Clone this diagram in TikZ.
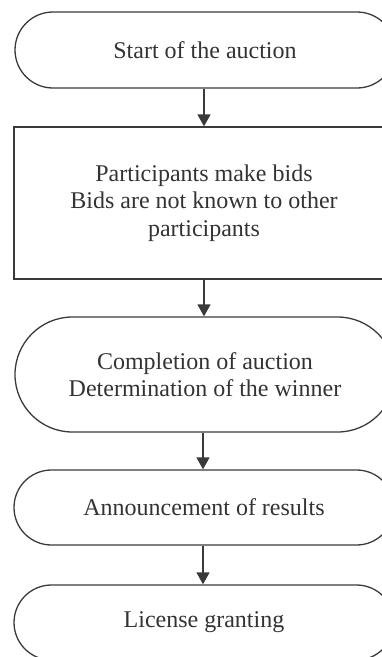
\documentclass[tikz,border=0pt]{standalone}
\usepackage{fontspec}
\setmainfont{Liberation Serif}
\usetikzlibrary{shapes.misc,arrows.meta}
\definecolor{ink}{HTML}{3A3A3A}
\definecolor{txt}{HTML}{333333}
\begin{document}
\begin{tikzpicture}[x=1pt,y=-1pt,
  every node/.style={align=center,text=txt,
    font=\fontsize{24}{27.6}\selectfont,inner sep=0pt},
  terminal/.style={draw=ink,line width=1.3pt,rounded rectangle,
    minimum width=380pt},
  process/.style={draw=ink,line width=1.3pt,rectangle,
    minimum width=380pt},
  flow/.style={draw=ink,line width=1.3pt,
    -{Triangle[length=12pt,width=13pt]}}]
  \useasboundingbox (0,0) rectangle (382,657);

  \node[terminal,minimum height=76pt] (start) at (205,50) {Start of the auction};
  \node[process,minimum height=152pt] (bids) at (204,203)
    {Participants make bids\\Bids are not known to other\\participants};
  \node[terminal,minimum height=115pt] (done) at (205,374.5)
    {Completion of auction\\Determination of the winner};
  \node[terminal,minimum height=75pt] (announce) at (204,507.5)
    {Announcement of results};
  \node[terminal,minimum height=75pt] (license) at (204,622.5)
    {License granting};

  \draw[flow] (start.south -| 204,0) -- (bids.north -| 204,0);
  \draw[flow] (bids.south -| 204,0) -- (done.north -| 204,0);
  \draw[flow] (done.south -| 203,0) -- (announce.north -| 203,0);
  \draw[flow] (announce.south -| 203,0) -- (license.north -| 203,0);
\end{tikzpicture}
\end{document}
